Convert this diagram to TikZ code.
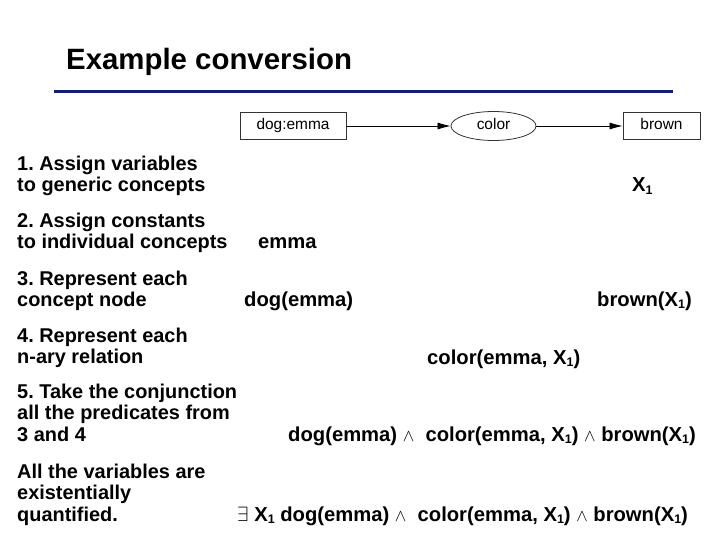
\documentclass[tikz,border=0pt]{standalone}
\usepackage{fontspec}
\setmainfont{Liberation Sans}
\usetikzlibrary{arrows.meta,shapes.geometric}
\frenchspacing
\newcommand{\xone}{X\raisebox{-2.5bp}{\fontsize{12.5}{12.5}\selectfont 1}}
\newcommand{\andsym}{{\fontsize{16}{16}\selectfont$\wedge$}}
\definecolor{rulenavy}{RGB}{20,30,120}

\begin{document}
\begin{tikzpicture}[x=1bp, y=-1bp,
    concept/.style={draw, line width=0.8pt, draw=black!80, inner sep=0,
      minimum height=27bp, text height=11bp, text depth=3bp,
      font=\fontsize{15.5}{18}\selectfont},
    relation/.style={concept, ellipse, minimum width=85bp, minimum height=29bp},
    link/.style={-{Latex[length=13bp, width=7bp]}, line width=0.7pt},
    stepnote/.style={anchor=base west, inner sep=0, align=left,
      font=\fontsize{20}{21.5}\selectfont\bfseries},
    formula/.style={anchor=base west, inner sep=0,
      font=\fontsize{20.3}{24}\selectfont\bfseries}]
  \useasboundingbox (0,0) rectangle (720,540);

  % title and rule
  \node[anchor=base west, inner sep=0, font=\fontsize{29.5}{34}\selectfont\bfseries]
    (title) at (66,70) {Example conversion};
  \draw[rulenavy, line width=3bp] (54,92) -- (673,92);

  % --- conceptual graph ---
  \node[concept, minimum width=106bp] (dog) at (293,126) {dog:emma};
  \node[relation] (color) at (493.5,126) {color};
  \node[concept, minimum width=77bp] (brown) at (661.5,126) {brown};
  \draw[link] (dog) -- (color);
  \draw[link] (color) -- (brown);

  % --- steps (left column), placed by the baseline of the last line ---
  \node[stepnote] (s1) at (17,191.5) {1. Assign variables\\to generic concepts};
  \node[stepnote] (s2) at (17,248.5) {2. Assign constants\\to individual concepts};
  \node[stepnote] (s3) at (17,306.5) {3. Represent each\\concept node};
  \node[stepnote] (s4) at (17,363.5) {4. Represent each\\n-ary relation};
  \node[stepnote] (s5) at (17,441) {5. Take the conjunction\\all the predicates from\\3 and 4};
  \node[stepnote] (s6) at (17,521) {All the variables are\\existentially\\quantified.};

  % --- results ---
  \node[formula] (r1) at (632,192) {\xone};
  \node[formula] (r2) at (258,249) {emma};
  \node[formula] (r3a) at (244,306) {dog(emma)};
  \node[formula] (r3b) at (597,306) {brown(\xone)};
  \node[formula] (r4) at (427,364) {color(emma, \xone)};
  \node[formula] (r5) at (288,441)
    {dog(emma) \andsym\ \ color(emma, \xone) \andsym\ brown(\xone)};
  \node[formula] (r6) at (237,521)
    {$\exists$ \xone\ dog(emma) \andsym\ \ color(emma, \xone) \andsym\ brown(\xone)};
\end{tikzpicture}
\end{document}
